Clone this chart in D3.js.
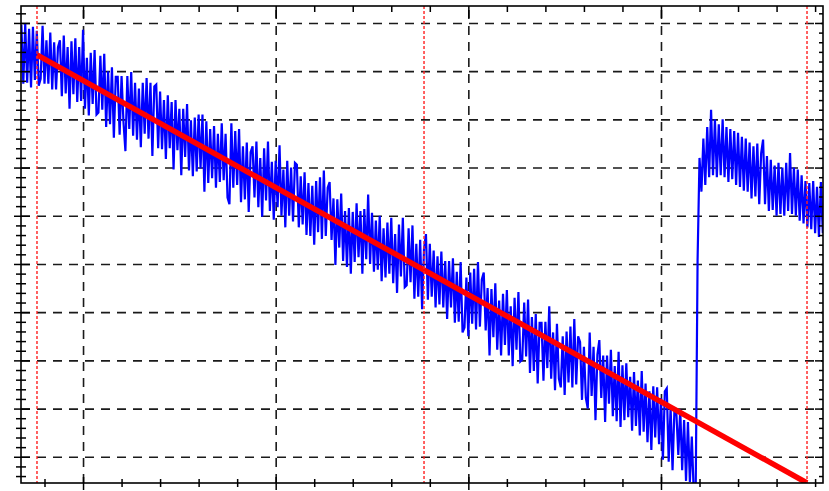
<!DOCTYPE html>
<html>
<head>
<meta charset="utf-8">
<script src="https://cdn.jsdelivr.net/npm/d3@7"></script>
<style>
  body { margin: 0; background: #fff; }
  svg { display: block; }
  .tick line { stroke: #000; stroke-width: 1.5; }
  .grid .tick line { stroke: #1a1a1a; stroke-width: 1.6; stroke-dasharray: 9,7; }
</style>
</head>
<body>
<div id="chart"></div>
<script>
var width = 829, height = 491;
var margin = {top: 6, right: 6, bottom: 8, left: 21};
var w = width - margin.left - margin.right,
    h = height - margin.top - margin.bottom;

// axis ranges and grid (no labels in the original)
var xDomain = [67.8, 484.1];
var yDomain = [-27.2, 467.6];
var xMajor = [100, 200, 300, 400];
var yMajor = [0, 50, 100, 150, 200, 250, 300, 350, 400, 450];

// red dashed markers and the red fitted line
var markers = [76.1, 277.0, 475.8];
var fitX = [76.1, 475.8];
var fitY = [417, -27.2];

// blue signal, one sample per x unit starting at sampleStart
var sampleStart = 68, sampleStep = 1;
var decay1 = [
  448, 387, 449, 388, 444, 383, 446, 391, 442, 385,
  392, 447, 387, 432, 387, 440, 381, 430, 381, 425,
  432, 374, 437, 377, 425, 361, 431, 376, 434, 368,
  425, 369, 443, 361, 414, 354, 419, 366, 422, 355,
  357, 416, 360, 418, 342, 400, 345, 404, 331, 394,
  394, 334, 395, 347, 317, 395, 340, 399, 333, 388,
  329, 382, 321, 388, 335, 393, 330, 388, 312, 384,
  386, 320, 379, 319, 370, 309, 375, 320, 368, 298,
  370, 318, 361, 292, 361, 311, 366, 297, 349, 291,
  352, 296, 355, 299, 355, 275, 348, 284, 340, 289,
  343, 279, 335, 285, 346, 287, 335, 269, 262, 346,
  279, 338, 282, 340, 264, 322, 267, 326, 254, 316,
  322, 269, 327, 259, 310, 249, 320, 266, 327, 255,
  306, 246, 307, 259, 323, 250, 298, 238, 307, 250,
  300, 244, 305, 303, 238, 291, 241, 295, 230, 284,
  229, 281, 220, 286, 233, 290, 226, 297, 229, 279,
  285, 225, 268, 199, 267, 217, 273, 203, 255, 197,
  258, 190, 254, 202, 263, 207, 255, 190, 257, 205,
  272, 200, 253, 192, 245, 194, 250, 182, 237, 186,
  243, 190, 248, 180, 231, 170, 241, 187, 248, 176,
  178, 237, 181, 240, 164, 221, 166, 225, 153, 216,
  231, 163, 221, 166, 214, 155, 208, 158, 213, 155,
  203, 143, 203, 155, 206, 139, 192, 140, 202, 129,
  134, 186, 125, 191, 138, 195, 132, 202, 135, 184,
  191, 131, 175, 105, 174, 124, 180, 111, 162, 105,
  169, 116, 173, 105, 156, 94, 165, 111, 171, 99,
  101, 160, 104, 163, 87, 145, 89, 148, 76, 139,
  139, 79, 140, 92, 156, 81, 129, 69, 138, 81,
  72, 125, 64, 130, 77, 135, 72, 143, 75, 125,
  119, 59, 114, 61, 50, 129, 63, 114, 38, 106,
  121, 61, 105, 36, 105, 55, 111, 42, 94, 37,
  109, 31, 95, 38, 97, 41, 83, 27, 88, 32,
  79, 22, 89, 26, 76, 15, 68, 7, 73, 20,
  72, 13, 61, -3, 68, 71, -5, 51, -14, 50,
  45, 2, 49, -14, 38, -25, 36, -26, 21, -37
];
var jump = [-40, 204, 310];
var decay2 = [
  275, 330, 282, 342, 290, 360, 292, 350, 290, 345,
  292, 350, 290, 342, 285, 340, 288, 338, 282, 336,
  280, 332, 276, 330, 275, 326, 268, 322, 270, 325,
  262, 315, 329, 262, 312, 255, 308, 256, 302, 250,
  305, 252, 300, 250, 305, 255, 315, 252, 300, 250,
  298, 245, 292, 242, 286, 238, 284, 236, 286, 232,
  280, 228, 285, 232
];
var signal = decay1.concat(jump, decay2);

var svg = d3.select("#chart").append("svg")
  .attr("width", width)
  .attr("height", height);

var g = svg.append("g")
  .attr("transform", "translate(" + margin.left + "," + margin.top + ")");

var x = d3.scaleLinear().domain(xDomain).range([0, w]);
var y = d3.scaleLinear().domain(yDomain).range([h, 0]);

var xMinor = d3.range(80, 484, 20).filter(function(v) { return v % 100 !== 0; });
var yMinor = d3.range(-20, 468, 10).filter(function(v) { return v % 50 !== 0; });

g.append("clipPath").attr("id", "plot")
  .append("rect").attr("width", w).attr("height", h);

// dashed grid
g.append("g").attr("class", "grid")
  .attr("transform", "translate(0," + h + ")")
  .call(d3.axisBottom(x).tickValues(xMajor).tickSize(-h).tickFormat(""))
  .call(function(s) { s.select(".domain").remove(); });
g.append("g").attr("class", "grid")
  .call(d3.axisLeft(y).tickValues(yMajor).tickSize(-w).tickFormat(""))
  .call(function(s) { s.select(".domain").remove(); });

var data = signal.map(function(v, i) {
  return {x: sampleStart + i * sampleStep, y: v};
});

var line = d3.line()
  .x(function(d) { return x(d.x); })
  .y(function(d) { return y(d.y); });

var plot = g.append("g").attr("clip-path", "url(#plot)");

plot.append("path")
  .datum(data)
  .attr("fill", "none")
  .attr("stroke", "#0000ff")
  .attr("stroke-width", 2.2)
  .attr("d", line);

plot.append("path")
  .datum(fitX.map(function(v, i) { return {x: v, y: fitY[i]}; }))
  .attr("fill", "none")
  .attr("stroke", "#ff0000")
  .attr("stroke-width", 5.5)
  .attr("d", line);

plot.selectAll(".marker")
  .data(markers)
  .enter().append("line")
  .attr("class", "marker")
  .attr("x1", function(d) { return x(d); })
  .attr("x2", function(d) { return x(d); })
  .attr("y1", 0)
  .attr("y2", h)
  .attr("stroke", "#ff2020")
  .attr("stroke-width", 1.4)
  .attr("stroke-dasharray", "3,2");

// ticks: straddle on left/bottom, inward on top/right
function ticks(axis, values, size, tx, ty) {
  g.append("g")
    .attr("transform", "translate(" + tx + "," + ty + ")")
    .call(axis.tickValues(values).tickSize(size).tickFormat(""))
    .call(function(s) { s.select(".domain").remove(); });
}
ticks(d3.axisLeft(y), yMajor, 7, 0, 0);
ticks(d3.axisRight(y), yMajor, 9, 0, 0);
ticks(d3.axisLeft(y), yMinor, 5, 0, 0);
ticks(d3.axisRight(y), yMinor, 5, 0, 0);
ticks(d3.axisBottom(x), xMajor, 7, 0, h);
ticks(d3.axisTop(x), xMajor, 6, 0, h);
ticks(d3.axisBottom(x), xMinor, 4, 0, h);
ticks(d3.axisTop(x), xMinor, 4, 0, h);
ticks(d3.axisBottom(x), xMajor, 12, 0, 0);
ticks(d3.axisBottom(x), xMinor, 6, 0, 0);
ticks(d3.axisLeft(y), yMajor, 8, w, 0);
ticks(d3.axisLeft(y), yMinor, 4, w, 0);

// frame
g.append("rect")
  .attr("width", w)
  .attr("height", h)
  .attr("fill", "none")
  .attr("stroke", "#000")
  .attr("stroke-width", 1.6);
</script>
</body>
</html>
